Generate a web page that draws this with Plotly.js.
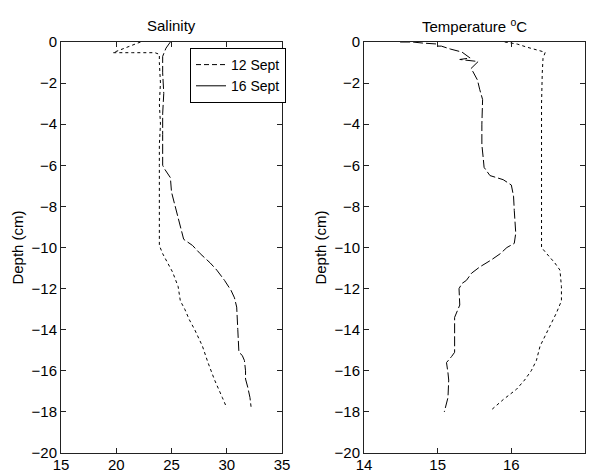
<!DOCTYPE html>
<html>
<head>
<meta charset="utf-8">
<script src="https://cdn.plot.ly/plotly-3.0.1.min.js"></script>
<style>html,body{margin:0;padding:0;background:#fff;}#chart{width:591px;height:473px;}</style>
</head>
<body>
<div id="chart"></div>
<script>
// Salinity, 12 Sept
const sal12 = [22.2,21.3,20.4,19.7,21.5,23.5,23.9,23.9,24.0,23.9,24.0,23.9,23.9,23.9,23.9,23.9,23.9,24.2,24.6,25.1,25.6,25.8,26.2,26.6,27.1,27.8,28.3,28.9,29.6,30.0];
const sal12Depth = [0,-0.2,-0.4,-0.52,-0.52,-0.52,-0.6,-1.0,-2.0,-3.0,-4.0,-5.0,-6.0,-7.0,-8.0,-9.0,-9.9,-10.3,-10.7,-11.2,-11.9,-12.6,-13.0,-13.5,-14.0,-14.8,-15.6,-16.45,-17.3,-17.8];
// Salinity, 16 Sept
const sal16 = [24.9,24.5,24.2,24.2,24.3,24.2,24.2,24.2,24.2,24.4,24.9,25.0,25.2,25.6,25.9,26.1,26.9,27.6,28.5,29.1,29.8,30.4,30.7,30.9,31.0,31.1,31.4,31.6,31.7,31.7,31.9,32.1,32.2];
const sal16Depth = [0,-0.3,-0.7,-1.5,-2.5,-3.5,-4.5,-5.5,-6.0,-6.2,-6.6,-7.3,-7.7,-8.5,-9.1,-9.6,-9.9,-10.3,-10.75,-11.1,-11.6,-12.1,-12.45,-12.9,-14.0,-15.1,-15.25,-15.5,-16.0,-16.4,-16.8,-17.3,-17.75];
// Temperature, 12 Sept
const temp12 = [15.91,15.98,16.08,16.21,16.35,16.46,16.43,16.42,16.41,16.41,16.41,16.41,16.41,16.48,16.59,16.66,16.68,16.68,16.64,16.61,16.5,16.39,16.34,16.27,16.18,16.07,15.89,15.73];
const temp12Depth = [0,-0.05,-0.1,-0.25,-0.4,-0.5,-0.8,-1.5,-3,-5,-7,-9,-10.0,-10.3,-10.75,-11.1,-11.9,-12.6,-13.0,-13.2,-14.0,-14.8,-15.5,-16.0,-16.45,-16.9,-17.4,-17.9];
// Temperature, 16 Sept
const temp16 = [14.49,14.66,14.79,15.0,15.0,15.05,15.17,15.33,15.44,15.3,15.55,15.45,15.48,15.54,15.57,15.61,15.6,15.6,15.62,15.63,15.71,15.8,15.89,16.0,16.03,16.04,16.06,16.04,15.94,15.85,15.73,15.57,15.46,15.39,15.33,15.29,15.29,15.3,15.23,15.23,15.19,15.12,15.14,15.15,15.14,15.12,15.09];
const temp16Depth = [0,0,-0.05,-0.1,-0.2,-0.2,-0.34,-0.49,-0.78,-0.85,-0.95,-1.3,-1.45,-1.85,-2.3,-2.8,-4,-5,-5.7,-6.1,-6.5,-6.6,-6.7,-6.96,-7.5,-8.2,-9.3,-9.8,-10.0,-10.3,-10.6,-10.95,-11.25,-11.6,-11.75,-12.0,-12.55,-12.8,-13.4,-15.1,-15.3,-15.6,-16.1,-16.45,-17.3,-17.65,-18.0];

const seriesNames = ['12 Sept', '16 Sept'];
const panelTitles = ['Salinity', 'Temperature <sup>o</sup>C'];
const depthTitle = 'Depth (cm)';

const dotted = '3px,3px';
const longdash = '10px,3px';
const font = {family: 'Arial, "Liberation Sans", sans-serif', size: 15, color: '#000'};
const legendFont = {family: 'Arial, "Liberation Sans", sans-serif', size: 14, color: '#000'};

const traces = [
  {x: sal12, y: sal12Depth, xaxis: 'x', yaxis: 'y', mode: 'lines', line: {color: '#000', width: 1, dash: dotted}, showlegend: false},
  {x: sal16, y: sal16Depth, xaxis: 'x', yaxis: 'y', mode: 'lines', line: {color: '#000', width: 1, dash: longdash}, showlegend: false},
  {x: temp12, y: temp12Depth, xaxis: 'x2', yaxis: 'y2', mode: 'lines', line: {color: '#000', width: 1, dash: dotted}, showlegend: false},
  {x: temp16, y: temp16Depth, xaxis: 'x2', yaxis: 'y2', mode: 'lines', line: {color: '#000', width: 1, dash: longdash}, showlegend: false},
  // legend entries
  {x: [null], y: [null], xaxis: 'x', yaxis: 'y', mode: 'lines', name: seriesNames[0], line: {color: '#000', width: 1, dash: '5px,3px'}},
  {x: [null], y: [null], xaxis: 'x', yaxis: 'y', mode: 'lines', name: seriesNames[1], line: {color: '#000', width: 1, dash: 'solid'}}
];

function axisCommon() {
  return {
    showgrid: false, zeroline: false, showline: true, mirror: 'ticks',
    linecolor: '#222', linewidth: 1, ticks: 'inside', ticklen: 5, tickcolor: '#222',
    tickfont: font, fixedrange: true
  };
}

const yBottom = 1 - 453/473, yTop = 1 - 42/473;
const layout = {
  width: 591, height: 473,
  margin: {l: 0, r: 0, t: 0, b: 0},
  paper_bgcolor: '#fff', plot_bgcolor: '#fff',
  font: font,
  showlegend: true,
  legend: {
    x: 190/591, y: 1 - 48/473, xanchor: 'left', yanchor: 'top',
    bgcolor: '#fff', bordercolor: '#000', borderwidth: 1,
    font: legendFont, tracegroupgap: 0
  },
  xaxis: Object.assign(axisCommon(), {domain: [61/591, 282/591], range: [15, 35], dtick: 5, tick0: 15, anchor: 'y', ticklabelstandoff: -2}),
  yaxis: Object.assign(axisCommon(), {domain: [yBottom, yTop], range: [-20, 0], dtick: 2, tick0: 0, anchor: 'x',
    title: {text: depthTitle, font: font, standoff: 4}}),
  xaxis2: Object.assign(axisCommon(), {domain: [364/591, 585/591], range: [14, 17], dtick: 1, tick0: 14, anchor: 'y2', ticklabelstandoff: -2}),
  yaxis2: Object.assign(axisCommon(), {domain: [yBottom, yTop], range: [-20, 0], dtick: 2, tick0: 0, anchor: 'x2',
    title: {text: depthTitle, font: font, standoff: 4}}),
  annotations: [
    {text: panelTitles[0], xref: 'paper', yref: 'paper', x: (61+282)/2/591, y: 1 - 25/473, xanchor: 'center', yanchor: 'middle', showarrow: false, font: font},
    {text: panelTitles[1], xref: 'paper', yref: 'paper', x: (364+585)/2/591, y: 1 - 25/473, xanchor: 'center', yanchor: 'middle', showarrow: false, font: font}
  ]
};

Plotly.newPlot('chart', traces, layout, {staticPlot: true, displayModeBar: false});
</script>
</body>
</html>
